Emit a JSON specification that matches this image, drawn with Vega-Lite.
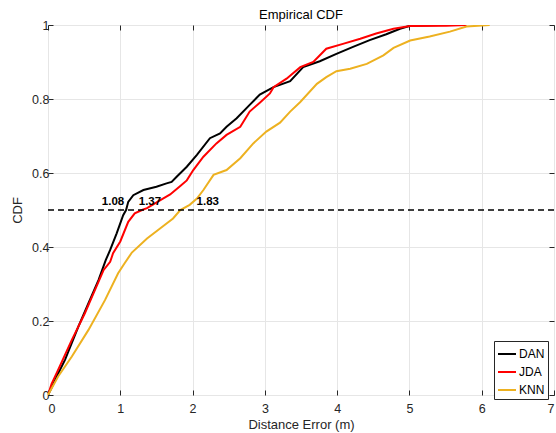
{
  "$schema": "https://vega.github.io/schema/vega-lite/v6.json",
  "width": 506,
  "height": 370,
  "autosize": {"type": "none"},
  "padding": {"left": 48, "top": 25, "right": 2, "bottom": 38},
  "background": "white",
  "title": {"text": "Empirical CDF", "fontSize": 13, "fontWeight": "normal", "font": "Liberation Sans", "color": "#000000", "offset": -3},
  "config": {
    "view": {"stroke": "#262626", "strokeWidth": 1},
    "axis": {"labelFont": "Liberation Sans", "titleFont": "Liberation Sans", "labelFontSize": 12.5, "titleFontSize": 13, "titleFontWeight": "normal", "labelColor": "#262626", "titleColor": "#262626", "gridColor": "#e6e6e6", "gridWidth": 1, "domain": false, "tickColor": "#262626", "tickSize": -5}
  },
  "resolve": {"axis": {"x": "independent", "y": "independent"}},
  "datasets": {
    "curves": [
      {"method": "DAN", "x": 0, "y": 0}, {"method": "DAN", "x": 0.05, "y": 0.02}, {"method": "DAN", "x": 0.14, "y": 0.058}, {"method": "DAN", "x": 0.235, "y": 0.095}, {"method": "DAN", "x": 0.42, "y": 0.185}, {"method": "DAN", "x": 0.56, "y": 0.248}, {"method": "DAN", "x": 0.7, "y": 0.311}, {"method": "DAN", "x": 0.8, "y": 0.365}, {"method": "DAN", "x": 0.86, "y": 0.392}, {"method": "DAN", "x": 0.95, "y": 0.437}, {"method": "DAN", "x": 1.04, "y": 0.486}, {"method": "DAN", "x": 1.08, "y": 0.5}, {"method": "DAN", "x": 1.11, "y": 0.522}, {"method": "DAN", "x": 1.18, "y": 0.54}, {"method": "DAN", "x": 1.32, "y": 0.554}, {"method": "DAN", "x": 1.5, "y": 0.563}, {"method": "DAN", "x": 1.64, "y": 0.572}, {"method": "DAN", "x": 1.71, "y": 0.576}, {"method": "DAN", "x": 1.78, "y": 0.59}, {"method": "DAN", "x": 1.92, "y": 0.617}, {"method": "DAN", "x": 2.06, "y": 0.649}, {"method": "DAN", "x": 2.24, "y": 0.694}, {"method": "DAN", "x": 2.38, "y": 0.707}, {"method": "DAN", "x": 2.47, "y": 0.725}, {"method": "DAN", "x": 2.61, "y": 0.748}, {"method": "DAN", "x": 2.79, "y": 0.784}, {"method": "DAN", "x": 2.93, "y": 0.812}, {"method": "DAN", "x": 3.12, "y": 0.832}, {"method": "DAN", "x": 3.35, "y": 0.848}, {"method": "DAN", "x": 3.53, "y": 0.886}, {"method": "DAN", "x": 3.76, "y": 0.902}, {"method": "DAN", "x": 3.99, "y": 0.922}, {"method": "DAN", "x": 4.22, "y": 0.941}, {"method": "DAN", "x": 4.45, "y": 0.959}, {"method": "DAN", "x": 4.68, "y": 0.975}, {"method": "DAN", "x": 4.87, "y": 0.99}, {"method": "DAN", "x": 5.01, "y": 0.998}, {"method": "DAN", "x": 5.42, "y": 1},
      {"method": "JDA", "x": 0, "y": 0}, {"method": "JDA", "x": 0.05, "y": 0.03}, {"method": "JDA", "x": 0.14, "y": 0.068}, {"method": "JDA", "x": 0.33, "y": 0.149}, {"method": "JDA", "x": 0.51, "y": 0.221}, {"method": "JDA", "x": 0.65, "y": 0.284}, {"method": "JDA", "x": 0.77, "y": 0.338}, {"method": "JDA", "x": 0.86, "y": 0.36}, {"method": "JDA", "x": 0.9, "y": 0.383}, {"method": "JDA", "x": 1.0, "y": 0.415}, {"method": "JDA", "x": 1.11, "y": 0.468}, {"method": "JDA", "x": 1.2, "y": 0.491}, {"method": "JDA", "x": 1.3, "y": 0.5}, {"method": "JDA", "x": 1.37, "y": 0.505}, {"method": "JDA", "x": 1.59, "y": 0.531}, {"method": "JDA", "x": 1.69, "y": 0.542}, {"method": "JDA", "x": 1.83, "y": 0.565}, {"method": "JDA", "x": 1.92, "y": 0.58}, {"method": "JDA", "x": 2.01, "y": 0.608}, {"method": "JDA", "x": 2.15, "y": 0.644}, {"method": "JDA", "x": 2.33, "y": 0.68}, {"method": "JDA", "x": 2.47, "y": 0.703}, {"method": "JDA", "x": 2.66, "y": 0.725}, {"method": "JDA", "x": 2.79, "y": 0.766}, {"method": "JDA", "x": 2.93, "y": 0.79}, {"method": "JDA", "x": 3.07, "y": 0.815}, {"method": "JDA", "x": 3.12, "y": 0.832}, {"method": "JDA", "x": 3.3, "y": 0.855}, {"method": "JDA", "x": 3.49, "y": 0.886}, {"method": "JDA", "x": 3.67, "y": 0.9}, {"method": "JDA", "x": 3.85, "y": 0.936}, {"method": "JDA", "x": 4.08, "y": 0.949}, {"method": "JDA", "x": 4.32, "y": 0.963}, {"method": "JDA", "x": 4.54, "y": 0.977}, {"method": "JDA", "x": 4.78, "y": 0.99}, {"method": "JDA", "x": 5.01, "y": 0.997}, {"method": "JDA", "x": 5.51, "y": 0.998}, {"method": "JDA", "x": 5.79, "y": 1},
      {"method": "KNN", "x": 0, "y": 0}, {"method": "KNN", "x": 0.14, "y": 0.05}, {"method": "KNN", "x": 0.33, "y": 0.104}, {"method": "KNN", "x": 0.56, "y": 0.176}, {"method": "KNN", "x": 0.79, "y": 0.257}, {"method": "KNN", "x": 0.97, "y": 0.329}, {"method": "KNN", "x": 1.06, "y": 0.356}, {"method": "KNN", "x": 1.16, "y": 0.385}, {"method": "KNN", "x": 1.37, "y": 0.423}, {"method": "KNN", "x": 1.55, "y": 0.45}, {"method": "KNN", "x": 1.73, "y": 0.477}, {"method": "KNN", "x": 1.83, "y": 0.5}, {"method": "KNN", "x": 1.96, "y": 0.514}, {"method": "KNN", "x": 2.06, "y": 0.531}, {"method": "KNN", "x": 2.15, "y": 0.554}, {"method": "KNN", "x": 2.29, "y": 0.595}, {"method": "KNN", "x": 2.47, "y": 0.608}, {"method": "KNN", "x": 2.66, "y": 0.64}, {"method": "KNN", "x": 2.84, "y": 0.68}, {"method": "KNN", "x": 3.02, "y": 0.712}, {"method": "KNN", "x": 3.21, "y": 0.736}, {"method": "KNN", "x": 3.35, "y": 0.766}, {"method": "KNN", "x": 3.49, "y": 0.792}, {"method": "KNN", "x": 3.72, "y": 0.841}, {"method": "KNN", "x": 3.85, "y": 0.859}, {"method": "KNN", "x": 3.99, "y": 0.875}, {"method": "KNN", "x": 4.18, "y": 0.882}, {"method": "KNN", "x": 4.41, "y": 0.895}, {"method": "KNN", "x": 4.64, "y": 0.918}, {"method": "KNN", "x": 4.78, "y": 0.938}, {"method": "KNN", "x": 5.01, "y": 0.958}, {"method": "KNN", "x": 5.28, "y": 0.969}, {"method": "KNN", "x": 5.56, "y": 0.982}, {"method": "KNN", "x": 5.79, "y": 0.996}, {"method": "KNN", "x": 6.11, "y": 1}
    ],
    "labels": [
      {"x": 0.9, "y": 0.522, "text": "1.08"},
      {"x": 1.41, "y": 0.522, "text": "1.37"},
      {"x": 2.21, "y": 0.522, "text": "1.83"}
    ],
    "ref": [{"y": 0.5}]
  },
  "layer": [
    {
      "data": {"name": "curves"},
      "mark": {"type": "line", "strokeWidth": 2, "clip": true},
      "encoding": {
        "x": {"field": "x", "type": "quantitative", "scale": {"domain": [0, 7], "nice": false}, "axis": {"orient": "bottom", "title": "Distance Error (m)", "values": [0, 1, 2, 3, 4, 5, 6, 7], "format": "~g", "labelPadding": 12, "titlePadding": 4}},
        "y": {"field": "y", "type": "quantitative", "scale": {"domain": [0, 1], "nice": false}, "axis": {"orient": "left", "title": "CDF", "values": [0, 0.2, 0.4, 0.6, 0.8, 1], "format": "~g", "labelPadding": 4, "titlePadding": 7}},
        "color": {"field": "method", "type": "nominal", "scale": {"domain": ["DAN", "JDA", "KNN"], "range": ["#000000", "#ff0000", "#edb120"]},
          "legend": {"title": null, "orient": "none", "legendX": 446, "legendY": 316, "fillColor": "white", "strokeColor": "#262626", "padding": 3, "symbolType": "stroke", "symbolSize": 324, "symbolStrokeWidth": 2, "labelFont": "Liberation Sans", "labelFontSize": 12, "labelColor": "#000000", "rowPadding": 2, "labelOffset": 2}}
      }
    },
    {
      "data": {"name": "ref"},
      "mark": {"type": "rule", "strokeDash": [6, 4], "strokeWidth": 1.5, "color": "#000000"},
      "encoding": {"y": {"field": "y", "type": "quantitative", "axis": null}}
    },
    {
      "data": {"name": "labels"},
      "mark": {"type": "text", "fontWeight": "bold", "fontSize": 11.5, "font": "Liberation Sans", "color": "#000000", "align": "center", "baseline": "middle"},
      "encoding": {
        "x": {"field": "x", "type": "quantitative", "axis": {"orient": "top", "labels": false, "title": null, "grid": false, "values": [0, 1, 2, 3, 4, 5, 6, 7]}},
        "y": {"field": "y", "type": "quantitative", "axis": {"orient": "right", "labels": false, "title": null, "grid": false, "values": [0, 0.2, 0.4, 0.6, 0.8, 1]}},
        "text": {"field": "text"}
      }
    }
  ]
}
